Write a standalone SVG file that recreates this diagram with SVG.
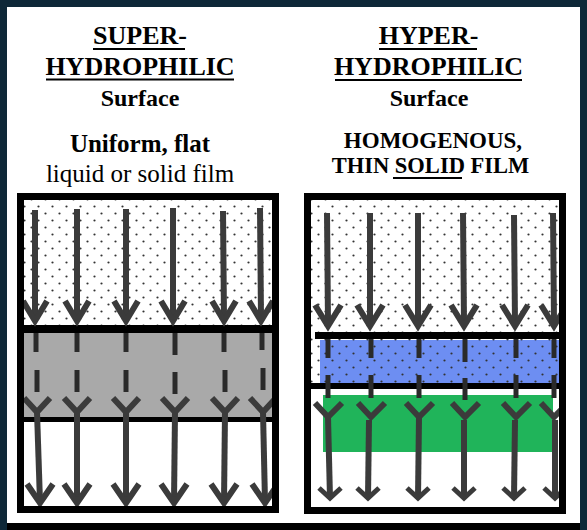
<svg xmlns="http://www.w3.org/2000/svg" width="587" height="530" viewBox="0 0 587 530">
<style>
.t{font-family:"Liberation Serif","Times New Roman",serif;fill:#000;text-anchor:middle}
.b{font-weight:bold}
.ul{stroke:#000;stroke-width:2}
.frame{fill:none;stroke:#000;stroke-width:7}
.shaft{stroke:#3b3b3b;stroke-width:6;fill:none}
.dash{stroke:#2a2a2a;stroke-width:5;fill:none}
.head{stroke:#3b3b3b;stroke-width:6;fill:none;stroke-linejoin:miter}
.shead{stroke:#3b3b3b;stroke-width:5;fill:none}
</style>
<defs>
<pattern id="dots" width="14" height="14" patternUnits="userSpaceOnUse">
<circle cx="3.5" cy="3.5" r="1.1" fill="#333"/>
<circle cx="10.5" cy="10.5" r="1.1" fill="#333"/>
</pattern>
<clipPath id="clipL"><rect x="23" y="199" width="250" height="307"/></clipPath>
<clipPath id="clipR"><rect x="311" y="200" width="248" height="307"/></clipPath>
</defs>
<rect x="0" y="0" width="587" height="530" fill="#0e2838"/>
<rect x="7" y="7" width="573" height="516" fill="#fff"/>
<rect x="7" y="523" width="573" height="7" fill="#000"/>

<g id="title-left">
<text class="t b" x="140" y="44" font-size="26">SUPER-</text>
<line class="ul" x1="93" y1="49" x2="185" y2="49"/>
<text class="t b" x="140" y="75" font-size="26">HYDROPHILIC</text>
<line class="ul" x1="46" y1="79.5" x2="234" y2="79.5"/>
<text class="t b" x="140" y="106" font-size="24">Surface</text>
<text class="t b" x="140" y="152" font-size="25">Uniform, flat</text>
<text class="t" x="140" y="182" font-size="25">liquid or solid film</text>
</g>

<g id="title-right">
<text class="t b" x="428.5" y="44" font-size="26">HYPER-</text>
<line class="ul" x1="379" y1="49" x2="477" y2="49"/>
<text class="t b" x="428.5" y="75" font-size="26">HYDROPHILIC</text>
<line class="ul" x1="335" y1="80" x2="522" y2="80"/>
<text class="t b" x="429" y="106" font-size="24">Surface</text>
<text class="t b" x="433" y="148" font-size="23">HOMOGENOUS,</text>
<text class="t b" x="430.5" y="173" font-size="22.5">THIN <tspan>SOLID</tspan> FILM</text>
<line class="ul" x1="393" y1="178" x2="462" y2="178"/>
</g>

<g id="panel-left">
<g clip-path="url(#clipL)">
<rect x="23" y="199" width="250" height="126" fill="#fff"/>
<rect x="23" y="199" width="250" height="126" fill="url(#dots)"/>
<rect x="23" y="333" width="250" height="84" fill="#a9a9a9"/>
<rect x="23" y="325" width="250" height="8" fill="#000"/>
<rect x="23" y="417" width="250" height="5" fill="#000"/>
<rect x="23" y="422" width="250" height="84" fill="#fff"/>
</g>
</g>

<g id="panel-right">
<g clip-path="url(#clipR)">
<rect x="311" y="200" width="248" height="183" fill="#fff"/>
<rect x="320" y="340" width="239" height="43" fill="#6d8ef2"/>
<rect x="311" y="200" width="248" height="183" fill="url(#dots)"/>
<rect x="315" y="332" width="244" height="7" fill="#000"/>
<rect x="311" y="383" width="248" height="6" fill="#000"/>
<rect x="311" y="389" width="248" height="118" fill="#fff"/>
<rect x="323" y="395" width="230" height="57" fill="#20b45a"/>
</g>
</g>

<g id="connectors">
<g clip-path="url(#clipL)">
<g id="arrows-left">
<!-- arrow 1 -->
<line class="shaft" x1="35" y1="210" x2="35" y2="318"/>
<polyline class="head" points="23,301 35,321 47,301"/>
<line class="dash" x1="36" y1="333" x2="36" y2="352"/>
<line class="dash" x1="37" y1="370" x2="37" y2="392"/>
<polyline class="head" points="24,398 37,412 50,398"/>
<line class="shaft" x1="37" y1="412" x2="40" y2="502"/>
<polyline class="head" points="27,484 40,503 53,484"/>
<!-- arrow 2 -->
<line class="shaft" x1="77" y1="209" x2="77" y2="318"/>
<polyline class="head" points="65,301 77,321 89,301"/>
<line class="dash" x1="77" y1="333" x2="77" y2="352"/>
<line class="dash" x1="77" y1="370" x2="77" y2="392"/>
<polyline class="head" points="64,398 77,412 90,398"/>
<line class="shaft" x1="77" y1="412" x2="77" y2="502"/>
<polyline class="head" points="64,484 77,503 90,484"/>
<!-- arrow 3 -->
<line class="shaft" x1="126" y1="209" x2="126" y2="318"/>
<polyline class="head" points="114,301 126,321 138,301"/>
<line class="dash" x1="126" y1="333" x2="126" y2="352"/>
<line class="dash" x1="126" y1="370" x2="126" y2="392"/>
<polyline class="head" points="113,398 126,412 139,398"/>
<line class="shaft" x1="126" y1="412" x2="126" y2="502"/>
<polyline class="head" points="113,484 126,503 139,484"/>
<!-- arrow 4 -->
<line class="shaft" x1="173" y1="208" x2="173" y2="318"/>
<polyline class="head" points="161,301 173,321 185,301"/>
<line class="dash" x1="175" y1="333" x2="175" y2="355"/>
<line class="dash" x1="175" y1="372" x2="175" y2="394"/>
<polyline class="head" points="162,398 175,412 188,398"/>
<line class="shaft" x1="175" y1="412" x2="174" y2="502"/>
<polyline class="head" points="161,484 174,503 187,484"/>
<!-- arrow 5 -->
<line class="shaft" x1="223" y1="211" x2="224" y2="318"/>
<polyline class="head" points="212,301 224,321 236,301"/>
<line class="dash" x1="224" y1="333" x2="224" y2="352"/>
<line class="dash" x1="225" y1="370" x2="225" y2="392"/>
<polyline class="head" points="212,398 225,412 238,398"/>
<line class="shaft" x1="225" y1="412" x2="224" y2="502"/>
<polyline class="head" points="211,484 224,503 237,484"/>
<!-- arrow 6 -->
<line class="shaft" x1="260" y1="208" x2="261" y2="318"/>
<polyline class="head" points="249,301 261,321 273,301"/>
<line class="dash" x1="262" y1="333" x2="262" y2="350"/>
<line class="dash" x1="263" y1="368" x2="263" y2="390"/>
<polyline class="head" points="250,398 263,412 276,398"/>
<line class="shaft" x1="263" y1="412" x2="265" y2="502"/>
<polyline class="head" points="252,484 265,503 278,484"/>
</g>
</g>
<g clip-path="url(#clipR)">
<g id="arrows-right">
<!-- arrow 1 -->
<line class="shaft" x1="327" y1="213" x2="328" y2="323"/>
<polyline class="head" points="315,305 328,326 341,305"/>
<line class="dash" x1="328" y1="339" x2="328" y2="358"/>
<line class="dash" x1="328" y1="375" x2="328" y2="398"/>
<polyline class="head" points="315,403 328,417 342,403"/>
<line class="shaft" x1="328" y1="417" x2="330" y2="498"/>
<polyline class="shead" points="319,488 330,498 341,488"/>
<!-- arrow 2 -->
<line class="shaft" x1="370" y1="213" x2="370" y2="323"/>
<polyline class="head" points="357,305 370,326 383,305"/>
<line class="dash" x1="371" y1="339" x2="371" y2="358"/>
<line class="dash" x1="371" y1="375" x2="371" y2="398"/>
<polyline class="head" points="358,403 371,417 385,403"/>
<line class="shaft" x1="369" y1="420" x2="368" y2="498"/>
<polyline class="shead" points="357,488 368,498 379,488"/>
<!-- arrow 3 -->
<line class="shaft" x1="418" y1="213" x2="418" y2="323"/>
<polyline class="head" points="405,305 418,326 431,305"/>
<line class="dash" x1="419" y1="339" x2="419" y2="358"/>
<line class="dash" x1="419" y1="375" x2="419" y2="398"/>
<polyline class="head" points="406,403 419,417 433,403"/>
<line class="shaft" x1="419" y1="417" x2="418" y2="498"/>
<polyline class="shead" points="407,488 418,498 429,488"/>
<!-- arrow 4 -->
<line class="shaft" x1="463" y1="213" x2="464" y2="323"/>
<polyline class="head" points="451,305 464,326 477,305"/>
<line class="dash" x1="465" y1="339" x2="465" y2="362"/>
<line class="dash" x1="465" y1="378" x2="465" y2="400"/>
<polyline class="head" points="452,403 465,417 479,403"/>
<line class="shaft" x1="464" y1="420" x2="464" y2="498"/>
<polyline class="shead" points="453,488 464,498 475,488"/>
<!-- arrow 5 -->
<line class="shaft" x1="514" y1="215" x2="515" y2="323"/>
<polyline class="head" points="502,305 515,326 528,305"/>
<line class="dash" x1="516" y1="339" x2="516" y2="358"/>
<line class="dash" x1="516" y1="375" x2="516" y2="398"/>
<polyline class="head" points="503,403 516,417 530,403"/>
<line class="shaft" x1="515" y1="420" x2="514" y2="498"/>
<polyline class="shead" points="503,488 514,498 525,488"/>
<!-- arrow 6 -->
<line class="shaft" x1="553" y1="213" x2="554" y2="323"/>
<polyline class="head" points="541,305 554,326 567,305"/>
<line class="dash" x1="554" y1="339" x2="554" y2="358"/>
<line class="dash" x1="554" y1="375" x2="554" y2="398"/>
<polyline class="head" points="541,403 554,417 568,403"/>
<line class="shaft" x1="555" y1="420" x2="555" y2="498"/>
<polyline class="shead" points="544,488 555,498 566,488"/>
</g>
</g>
</g>

<g id="frames">
<rect class="frame" x="20.5" y="196.5" width="255" height="313"/>
<rect class="frame" x="307.5" y="196.5" width="255" height="314"/>
</g>
</svg>
